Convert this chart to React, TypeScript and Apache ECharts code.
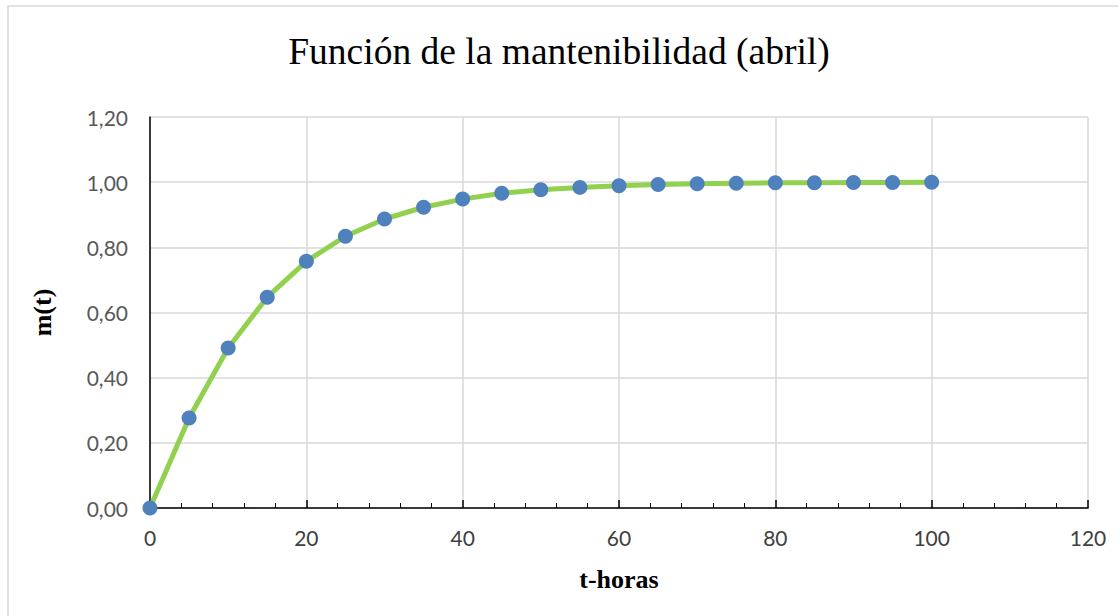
import React, { useEffect, useRef } from "react";
import * as echarts from "echarts";

const titleText = "Función de la mantenibilidad (abril)";
const xName = "t-horas";
const yName = "m(t)";
const hours = [0, 5, 10, 15, 20, 25, 30, 35, 40, 45, 50, 55, 60, 65, 70, 75, 80, 85, 90, 95, 100];
const mValues = [0, 0.276, 0.491, 0.647, 0.757, 0.834, 0.887, 0.923, 0.948, 0.966, 0.977, 0.984, 0.989, 0.993, 0.995, 0.997, 0.998, 0.998, 0.999, 0.999, 1.0];

export default function App() {
  const ref = useRef<HTMLDivElement>(null);
  useEffect(() => {
    if (!ref.current) return;
    const chart = echarts.init(ref.current, undefined, { renderer: "svg" });
    const data = hours.map((h, i) => [h, mValues[i]]);
    chart.setOption({
      animation: false,
      backgroundColor: "#ffffff",
      graphic: [
        {
          type: "rect",
          shape: { x: 8, y: 6, width: 1200, height: 700 },
          style: { fill: "none", stroke: "#d9d9d9", lineWidth: 1.5 },
          silent: true,
        },
      ],
      title: {
        text: titleText,
        left: "center",
        top: 27,
        textStyle: {
          fontFamily: "Liberation Serif",
          fontSize: 37.5,
          fontWeight: "normal",
          color: "#000000",
        },
      },
      grid: { left: 150, right: 30, top: 117, bottom: 108, containLabel: false },
      xAxis: {
        type: "value",
        min: 0,
        max: 120,
        interval: 20,
        name: xName,
        nameLocation: "middle",
        nameGap: 58,
        nameTextStyle: {
          fontFamily: "Liberation Serif",
          fontSize: 26,
          fontWeight: "bold",
          color: "#000000",
        },
        axisLine: { show: true, lineStyle: { color: "#000000", width: 1.5 } },
        axisTick: { show: true, inside: true, length: 8, lineStyle: { color: "#000000", width: 1.5 } },
        minorTick: { show: true, splitNumber: 5, length: 5, lineStyle: { color: "#000000", width: 1 } },
        axisLabel: { fontFamily: "Lato", fontSize: 21, color: "#404040", margin: 19 },
        splitLine: { show: true, lineStyle: { color: "#d9d9d9", width: 1.5 } },
      },
      yAxis: {
        type: "value",
        min: 0,
        max: 1.2,
        interval: 0.2,
        name: yName,
        nameLocation: "middle",
        nameGap: 95,
        nameTextStyle: {
          fontFamily: "Liberation Serif",
          fontSize: 26,
          fontWeight: "bold",
          color: "#000000",
        },
        axisLine: { show: true, lineStyle: { color: "#000000", width: 1.5 } },
        axisTick: { show: false },
        axisLabel: {
          fontFamily: "Lato",
          fontSize: 21,
          color: "#595959",
          margin: 22,
          formatter: (v: number) => v.toFixed(2).replace(".", ","),
        },
        splitLine: { show: true, lineStyle: { color: "#d9d9d9", width: 1.5 } },
      },
      series: [
        {
          type: "line",
          data,
          symbol: "circle",
          symbolSize: 15,
          lineStyle: { color: "#92d050", width: 5 },
          itemStyle: { color: "#4f81bd" },
          z: 3,
        },
      ],
    });
    return () => chart.dispose();
  }, []);
  return (
    <div
      ref={ref}
      style={{ position: "fixed", left: 0, top: 0, width: 1118, height: 616 }}
    />
  );
}
